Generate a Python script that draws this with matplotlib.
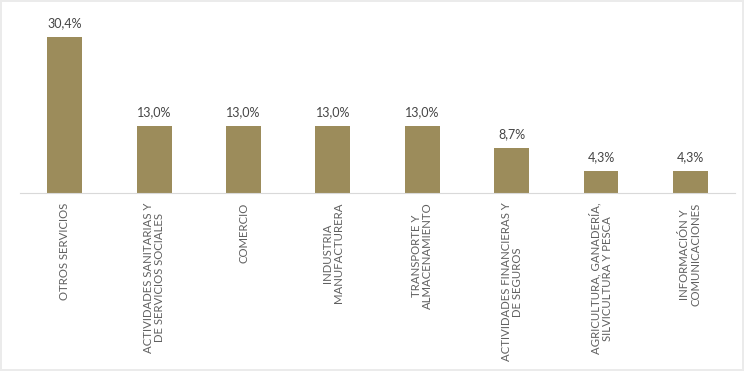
import matplotlib.pyplot as plt
import numpy as np

categories = ['OTROS SERVICIOS',
              'ACTIVIDADES SANITARIAS Y\nDE SERVICIOS SOCIALES',
              'COMERCIO',
              'INDUSTRIA\nMANUFACTURERA',
              'TRANSPORTE Y\nALMACENAMIENTO',
              'ACTIVIDADES FINANCIERAS Y\nDE SEGUROS',
              'AGRICULTURA, GANADERÍA,\nSILVICULTURA Y PESCA',
              'INFORMACIÓN Y\nCOMUNICACIONES']
values = [30.4, 13.0, 13.0, 13.0, 13.0, 8.7, 4.3, 4.3]

plt.rcParams['font.family'] = ['Lato', 'DejaVu Sans']

fig = plt.figure(figsize=(7.44, 3.71), dpi=100)
fig.patch.set_edgecolor('#ebebeb')
fig.patch.set_linewidth(1.5)
ax = fig.add_axes([0.027, 0.48, 0.961, 0.493])

x = np.arange(len(categories))
bars = ax.bar(x, values, width=0.39, color='#9c8c5b')
for xi, v in zip(x, values):
    ax.text(xi, v + 1.6, f'{v:.1f}%'.replace('.', ','), ha='center', va='bottom',
            fontsize=9, color='#454545')

ax.set_xlim(-0.5, len(categories) - 0.5)
ax.set_ylim(0, 35.7)
ax.set_xticks(x)
ax.set_xticklabels(categories, rotation=90, fontsize=8.2, color='#606060',
                   ha='center', va='top', multialignment='center',
                   linespacing=1.0)
ax.tick_params(axis='x', length=0, pad=7)
ax.set_yticks([])
for side in ['top', 'right', 'left']:
    ax.spines[side].set_visible(False)
ax.spines['bottom'].set_color('#d9d9d9')

fig.savefig('out.png', dpi=100)
